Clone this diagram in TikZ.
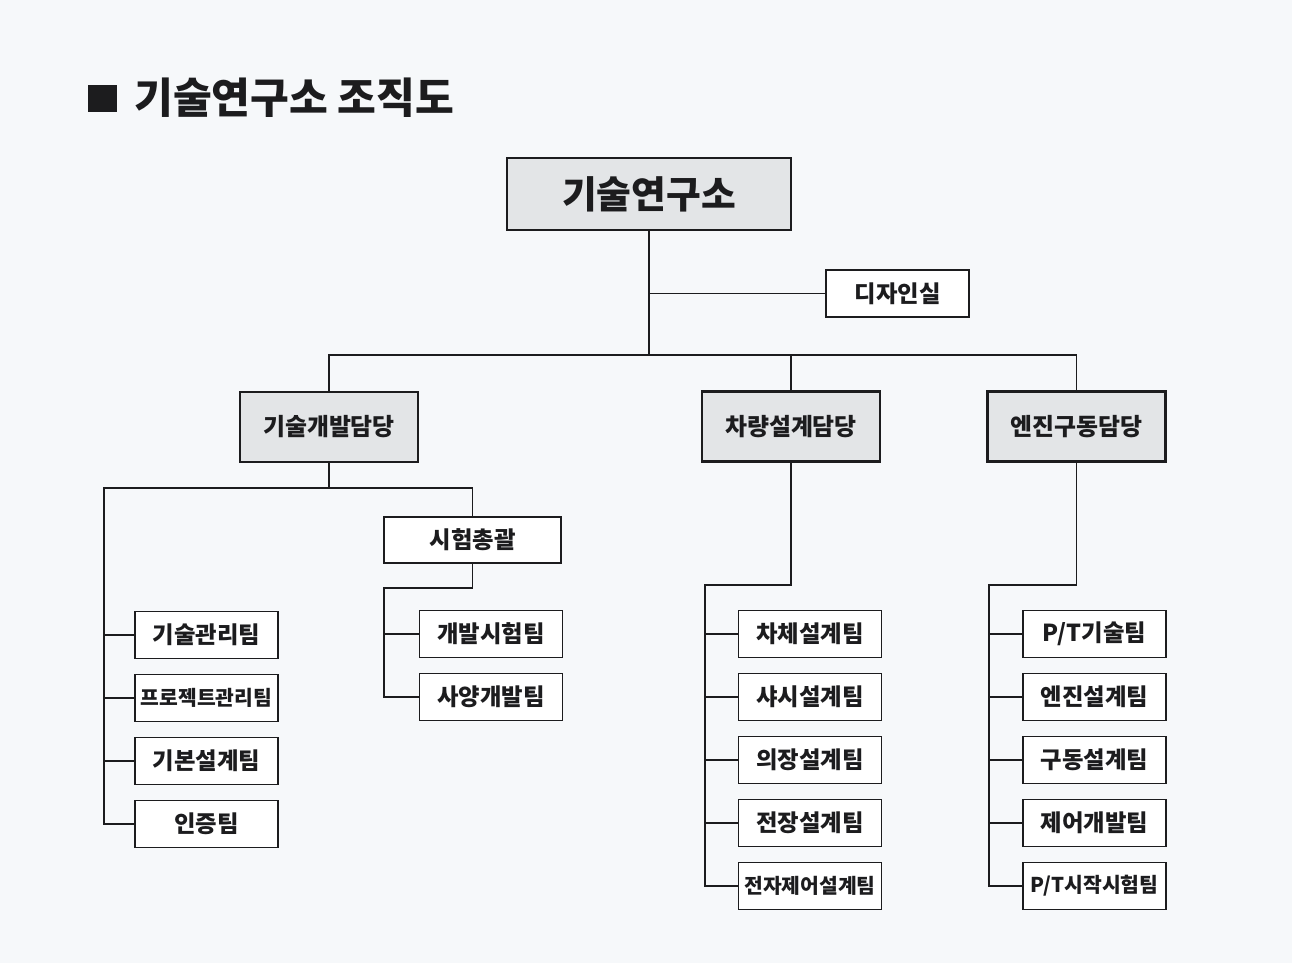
\documentclass[tikz,border=0pt]{standalone}
\usepackage{fontspec}
\setmainfont{Noto Sans CJK KR}
\definecolor{paper}{HTML}{F6F8FA}
\definecolor{headfill}{HTML}{E3E5E7}
\definecolor{ink}{HTML}{1C1C1E}
\tikzset{
    headbox/.style={draw=ink, line width=1.6pt, fill=headfill, text=ink, inner sep=0pt,
        minimum width=3.56cm, minimum height=1.4cm, font=\bfseries\fontsize{13.6}{15}\selectfont},
    teambox/.style={draw=ink, line width=0.8pt, fill=white, text=ink, inner sep=0pt,
        minimum width=2.86cm, minimum height=0.94cm, font=\bfseries\fontsize{13.3}{15}\selectfont},
    longname/.style={font=\bfseries\fontsize{11.6}{13}\selectfont},
    link/.style={draw=ink, line width=0.8pt}
}
\begin{document}
\begin{tikzpicture}[x=0.02cm, y=-0.02cm]
    \fill[paper] (0,0) rectangle (1292,963);
    \fill[ink] (88,85) rectangle (117,112);
    \node[anchor=west, text=ink, inner sep=0pt, font=\bfseries\fontsize{24}{27}\selectfont] (title) at (134,98) {기술연구소 조직도};

    \node[headbox, minimum width=5.68cm, minimum height=1.44cm, font=\bfseries\fontsize{21.5}{24}\selectfont] (lab) at (649,194) {기술연구소};
    \node[teambox] (design) at (897.5,293.5) {디자인실};

    \node[headbox] (tech) at (329,427) {기술개발담당};
    \node[headbox] (car) at (791,426.5) {차량설계담당};
    \node[headbox] (eng) at (1076.5,426.5) {엔진구동담당};

    \node[teambox, minimum width=3.54cm, minimum height=0.92cm] (test) at (472.5,540) {시험총괄};

    \node[teambox] (lt1) at (206.5,635) {기술관리팀};
    \node[teambox, longname] (lt2) at (206.5,698) {프로젝트관리팀};
    \node[teambox] (lt3) at (206.5,761) {기본설계팀};
    \node[teambox] (lt4) at (206.5,824) {인증팀};

    \node[teambox] (tt1) at (491,634) {개발시험팀};
    \node[teambox] (tt2) at (491,697) {사양개발팀};

    \node[teambox] (ct1) at (810,634) {차체설계팀};
    \node[teambox] (ct2) at (810,697) {샤시설계팀};
    \node[teambox] (ct3) at (810,760) {의장설계팀};
    \node[teambox] (ct4) at (810,823) {전장설계팀};
    \node[teambox, longname] (ct5) at (810,886) {전자제어설계팀};

    \node[teambox] (et1) at (1094.5,634) {P/T기술팀};
    \node[teambox] (et2) at (1094.5,697) {엔진설계팀};
    \node[teambox] (et3) at (1094.5,760) {구동설계팀};
    \node[teambox] (et4) at (1094.5,823) {제어개발팀};
    \node[teambox, longname] (et5) at (1094.5,886) {P/T시작시험팀};

    \coordinate (hub) at (649,355);
    \coordinate (tsplit) at (329,488);
    \coordinate (lspine) at (104,488);
    \coordinate (tspine) at (384,588);
    \coordinate (cspine) at (705,585);
    \coordinate (espine) at (989,585);

    \draw[link] (lab.south) -- (hub);
    \draw[link] (lab.south |- design) -- (design.west);
    \draw[link] (tech.north) |- (hub) -| (eng.north);
    \draw[link] (car.north) -- (car.north |- hub);

    \draw[link] (tech.south) -- (tsplit) -| (test.north);
    \draw[link] (tsplit) -- (lspine) |- (lt4.west);
    \foreach \i in {1,2,3}
        \draw[link] (lspine |- lt\i) -- (lt\i.west);

    \draw[link] (test.south) |- (tspine) |- (tt2.west);
    \draw[link] (tspine |- tt1) -- (tt1.west);

    \draw[link] (car.south) |- (cspine) |- (ct5.west);
    \draw[link] (eng.south) |- (espine) |- (et5.west);
    \foreach \i in {1,2,3,4} {
        \draw[link] (cspine |- ct\i) -- (ct\i.west);
        \draw[link] (espine |- et\i) -- (et\i.west);
    }
\end{tikzpicture}
\end{document}
